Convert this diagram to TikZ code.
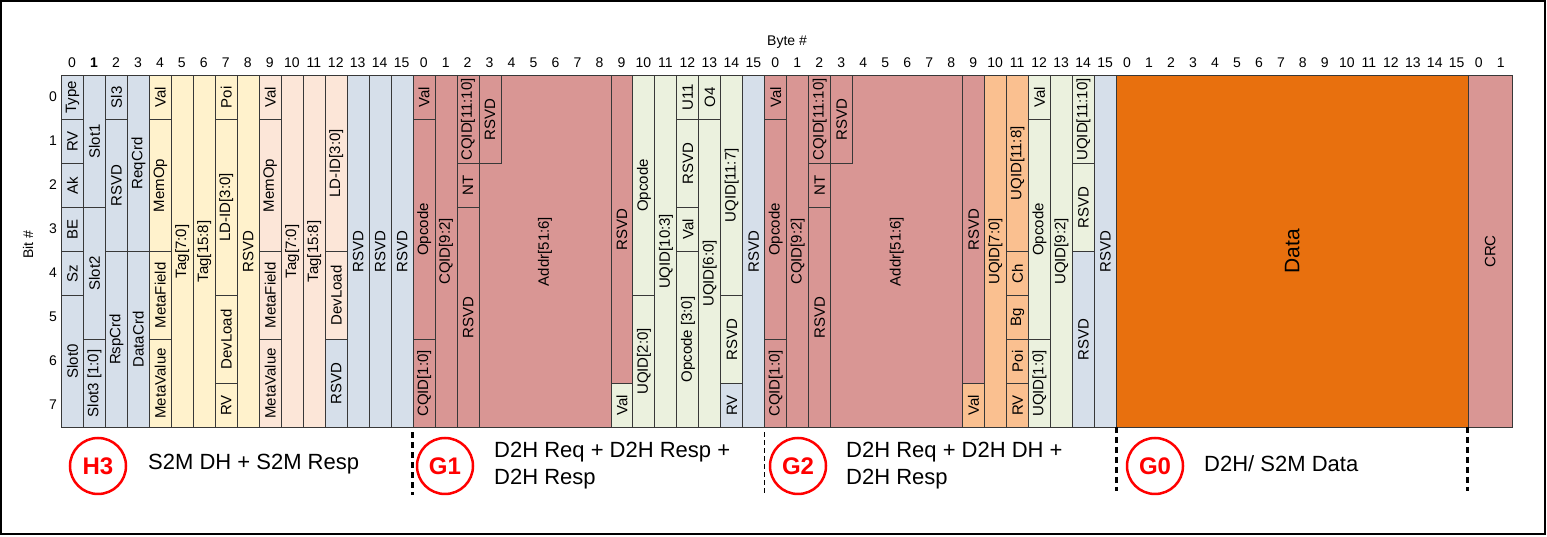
\documentclass[tikz,border=0pt]{standalone}
\usepackage{fontspec}
\setmainfont{Liberation Sans}
\usetikzlibrary{calc}
\definecolor{cblue}{HTML}{D6DFEA}
\definecolor{cyel}{HTML}{FFF2CC}
\definecolor{cpch}{HTML}{FCE6D8}
\definecolor{csal}{HTML}{D99694}
\definecolor{cgrn}{HTML}{EBF1DE}
\definecolor{corg}{HTML}{FAC090}
\definecolor{cdat}{HTML}{E8700E}
\definecolor{cred}{HTML}{FF0000}
\newcommand\cwd{21.98}
\newcommand\rht{44}
\newcommand\fieldfont{\fontsize{15}{17}\selectfont}
\newcommand\F[7]{\node[fld, fill=#6, minimum width=#4*\cwd pt, minimum height=#5*\rht pt] (#1) at (#2,#3) {\rotatebox{90}{#7}};}
\tikzset{
  fld/.style={draw=black!78, line width=0.9pt, inner sep=0pt, anchor=north west, font=\fieldfont},
  hdr/.style={font=\fontsize{14}{16}\selectfont, inner sep=0pt},
  badge/.style={circle, draw=cred, line width=2.5pt, minimum size=56pt, inner sep=0pt, text=cred, font=\fontsize{24}{28}\selectfont\bfseries},
  legendtxt/.style={font=\fontsize{22}{27}\selectfont, align=left, anchor=west, inner sep=0pt},
  septhick/.style={line width=3pt, dash pattern=on 6pt off 4pt},
  septhin/.style={line width=1.3pt, dash pattern=on 5pt off 3pt}
}
\begin{document}
\begin{tikzpicture}
\useasboundingbox (0,0) rectangle (1547pt,537pt);
\draw[line width=2pt] (1pt,3pt) rectangle (1545pt,536pt);
\begin{scope}[shift={(61pt,462pt)}, x=21.98pt, y=-44pt]
% headers
\foreach \c in {0,...,65}{
  \pgfmathtruncatemacro\lab{mod(\c,16)}
  \ifnum\c=1
    \node[hdr] (hd\c) at (\c+0.5,-0.27) {\bfseries\lab};
  \else
    \node[hdr] (hd\c) at (\c+0.5,-0.27) {\lab};
  \fi
}
\foreach \r in {0,...,7}{
  \node[hdr] (rw\r) at (-0.36,\r+0.5) {\r};
}
\node[hdr, rotate=90] (bitlbl) at (-1.5,3.86) {Bit \#};
\node[hdr] (bytelbl) at (33.03,-0.75) {Byte \#};
% ---------- H3 ----------
\F{hT}{0}{0}{1}{1}{cblue}{Type}
\F{hRV}{0}{1}{1}{1}{cblue}{RV}
\F{hAk}{0}{2}{1}{1}{cblue}{Ak}
\F{hBE}{0}{3}{1}{1}{cblue}{BE}
\F{hSz}{0}{4}{1}{1}{cblue}{Sz}
\F{hS0}{0}{5}{1}{3}{cblue}{Slot0}
\F{hS1}{1}{0}{1}{3}{cblue}{Slot1}
\F{hS2}{1}{3}{1}{3}{cblue}{Slot2}
\F{hS3}{1}{6}{1}{2}{cblue}{Slot3 [1:0]}
\F{hSl3}{2}{0}{1}{1}{cblue}{Sl3}
\F{hR2}{2}{1}{1}{3}{cblue}{RSVD}
\F{hRsp}{2}{4}{1}{4}{cblue}{RspCrd}
\F{hReq}{3}{0}{1}{4}{cblue}{ReqCrd}
\F{hDat}{3}{4}{1}{4}{cblue}{DataCrd}
\F{hV4}{4}{0}{1}{1}{cyel}{Val}
\F{hM4}{4}{1}{1}{3}{cyel}{MemOp}
\F{hMF4}{4}{4}{1}{2}{cyel}{MetaField}
\F{hMV4}{4}{6}{1}{2}{cyel}{MetaValue}
\F{hT5}{5}{0}{1}{8}{cyel}{Tag[7:0]}
\F{hT6}{6}{0}{1}{8}{cyel}{Tag[15:8]}
\F{hP7}{7}{0}{1}{1}{cyel}{Poi}
\F{hL7}{7}{1}{1}{4}{cyel}{LD-ID[3:0]}
\F{hD7}{7}{5}{1}{2}{cyel}{DevLoad}
\F{hRV7}{7}{7}{1}{1}{cyel}{RV}
\F{hR8}{8}{0}{1}{8}{cyel}{RSVD}
\F{hV9}{9}{0}{1}{1}{cpch}{Val}
\F{hM9}{9}{1}{1}{3}{cpch}{MemOp}
\F{hMF9}{9}{4}{1}{2}{cpch}{MetaField}
\F{hMV9}{9}{6}{1}{2}{cpch}{MetaValue}
\F{hT10}{10}{0}{1}{8}{cpch}{Tag[7:0]}
\F{hT11}{11}{0}{1}{8}{cpch}{Tag[15:8]}
\F{hL12}{12}{0}{1}{4}{cpch}{LD-ID[3:0]}
\F{hD12}{12}{4}{1}{2}{cpch}{DevLoad}
\F{hR12}{12}{6}{1}{2}{cblue}{RSVD}
\F{hR13}{13}{0}{1}{8}{cblue}{RSVD}
\F{hR14}{14}{0}{1}{8}{cblue}{RSVD}
\F{hR15}{15}{0}{1}{8}{cblue}{RSVD}
% ---------- G1 ----------
\F{aV}{16}{0}{1}{1}{csal}{Val}
\F{aOp}{16}{1}{1}{5}{csal}{Opcode}
\F{aC10}{16}{6}{1}{2}{csal}{CQID[1:0]}
\F{aC92}{17}{0}{1}{8}{csal}{CQID[9:2]}
\F{aC1110}{18}{0}{1}{2}{csal}{CQID[11:10]}
\F{aNT}{18}{2}{1}{1}{csal}{NT}
\F{aR18}{18}{3}{1}{5}{csal}{RSVD}
\F{aAd}{19}{0}{6}{8}{csal}{Addr[51:6]}
\F{aR19}{19}{0}{1}{2}{csal}{RSVD}
\F{aR25}{25}{0}{1}{7}{csal}{RSVD}
\F{aV25}{25}{7}{1}{1}{cgrn}{Val}
\F{aOp26}{26}{0}{1}{5}{cgrn}{Opcode}
\F{aU26}{26}{5}{1}{3}{cgrn}{UQID[2:0]}
\F{aU27}{27}{0}{1}{8}{cgrn}{UQID[10:3]}
\F{aU11}{28}{0}{1}{1}{cgrn}{U11}
\F{aR28}{28}{1}{1}{2}{cgrn}{RSVD}
\F{aV28}{28}{3}{1}{1}{cgrn}{Val}
\F{aOp28}{28}{4}{1}{4}{cgrn}{Opcode [3:0]}
\F{aO4}{29}{0}{1}{1}{cgrn}{O4}
\F{aU29}{29}{1}{1}{7}{cgrn}{UQID[6:0]}
\F{aU30}{30}{0}{1}{5}{cgrn}{UQID[11:7]}
\F{aR30}{30}{5}{1}{2}{cgrn}{RSVD}
\F{aRV30}{30}{7}{1}{1}{cblue}{RV}
\F{aR31}{31}{0}{1}{8}{cblue}{RSVD}
% ---------- G2 ----------
\F{bV}{32}{0}{1}{1}{csal}{Val}
\F{bOp}{32}{1}{1}{5}{csal}{Opcode}
\F{bC10}{32}{6}{1}{2}{csal}{CQID[1:0]}
\F{bC92}{33}{0}{1}{8}{csal}{CQID[9:2]}
\F{bC1110}{34}{0}{1}{2}{csal}{CQID[11:10]}
\F{bNT}{34}{2}{1}{1}{csal}{NT}
\F{bR34}{34}{3}{1}{5}{csal}{RSVD}
\F{bAd}{35}{0}{6}{8}{csal}{Addr[51:6]}
\F{bR35}{35}{0}{1}{2}{csal}{RSVD}
\F{bR41}{41}{0}{1}{7}{csal}{RSVD}
\F{bV41}{41}{7}{1}{1}{corg}{Val}
\F{bU42}{42}{0}{1}{8}{corg}{UQID[7:0]}
\F{bU43}{43}{0}{1}{4}{corg}{UQID[11:8]}
\F{bCh}{43}{4}{1}{1}{corg}{Ch}
\F{bBg}{43}{5}{1}{1}{corg}{Bg}
\F{bPoi}{43}{6}{1}{1}{corg}{Poi}
\F{bRV}{43}{7}{1}{1}{corg}{RV}
\F{bV44}{44}{0}{1}{1}{cgrn}{Val}
\F{bOp44}{44}{1}{1}{5}{cgrn}{Opcode}
\F{bU44}{44}{6}{1}{2}{cgrn}{UQID[1:0]}
\F{bU45}{45}{0}{1}{8}{cgrn}{UQID[9:2]}
\F{bU46}{46}{0}{1}{2}{cgrn}{UQID[11:10]}
\F{bR46a}{46}{2}{1}{2}{cgrn}{RSVD}
\F{bR46b}{46}{4}{1}{4}{cblue}{RSVD}
\F{bR47}{47}{0}{1}{8}{cblue}{RSVD}
% ---------- G0 + CRC ----------
\F{gD}{48}{0}{16}{8}{cdat}{\fontsize{21}{25}\selectfont Data}
\F{gC}{64}{0}{2}{8}{csal}{CRC}
% separators
\draw[septhick] (16,8.12) -- (16,9.55);
\draw[septhin] (32,8.12) -- (32,9.55);
\draw[septhick] (48,8.0) -- (48,9.45);
\draw[septhick] (64,8.0) -- (64,9.45);
\end{scope}
% ---------- bottom legend ----------
\node[badge] (bH3) at (98pt,71pt) {H3};
\node[legendtxt] (tH3) at (148pt,73pt) {S2M DH + S2M Resp};
\node[badge] (bG1) at (445pt,71pt) {G1};
\node[legendtxt] (tG1) at (494pt,71.5pt) {D2H Req + D2H Resp +\\D2H Resp};
\node[badge] (bG2) at (798pt,71pt) {G2};
\node[legendtxt] (tG2) at (846pt,71.5pt) {D2H Req + D2H DH +\\D2H Resp};
\node[badge] (bG0) at (1155pt,71pt) {G0};
\node[legendtxt] (tG0) at (1204pt,73pt) {D2H/ S2M Data};
\end{tikzpicture}
\end{document}
